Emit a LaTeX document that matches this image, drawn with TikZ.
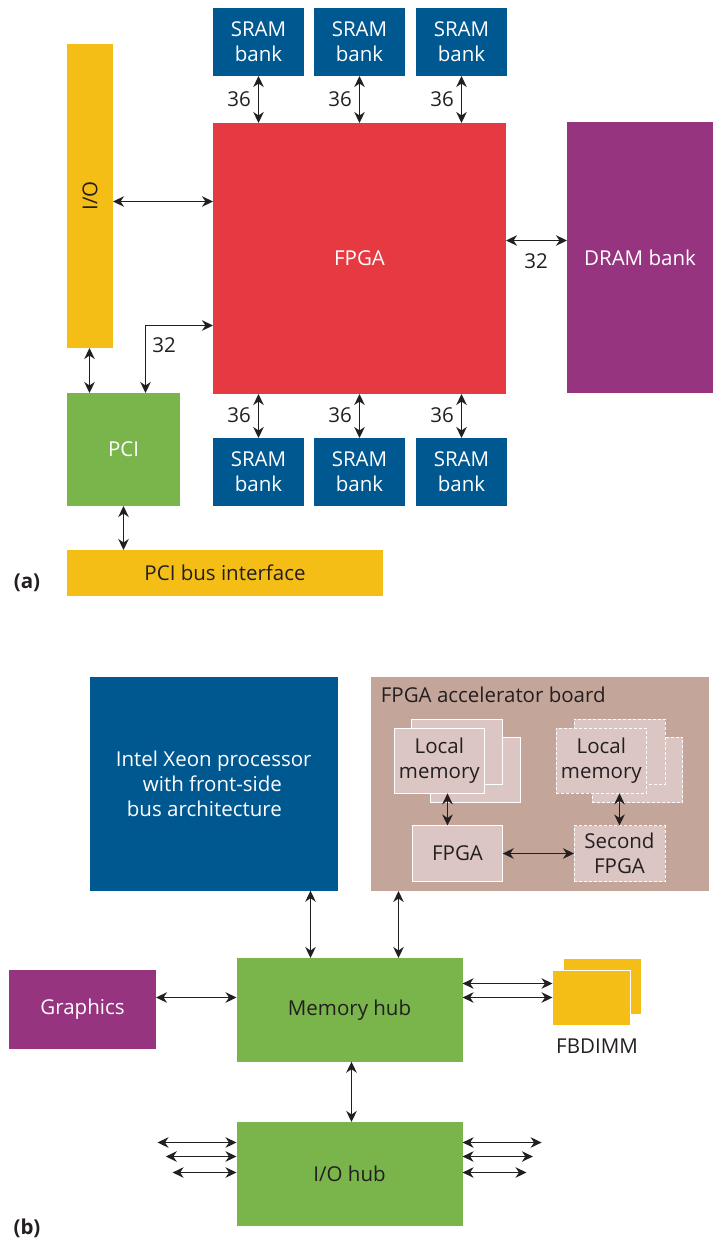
\documentclass[tikz,border=0pt]{standalone}
\usepackage{fontspec}
\setmainfont{Open Sans}
\usetikzlibrary{arrows.meta}
\definecolor{sramblue}{HTML}{005891}
\definecolor{fpgared}{HTML}{E63A42}
\definecolor{drampurple}{HTML}{963480}
\definecolor{ioyellow}{HTML}{F4BE16}
\definecolor{pcigreen}{HTML}{79B54B}
\definecolor{boardtan}{HTML}{C4A599}
\definecolor{memfill}{HTML}{DCC6C3}
\definecolor{ink}{HTML}{231F20}
\newcommand\tfont{\fontsize{20.5}{25}\selectfont}
\tikzset{
  area/.style n args={4}{at={({(#1+#3)/2},{(#2+#4)/2})},
     minimum width={(#3-#1)*1pt}, minimum height={(#4-#2)*1pt}},
  blk/.style={inner sep=0pt, outer sep=0pt, align=center, font=\tfont},
  wtxt/.style={blk, text=white},
  dtxt/.style={blk, text=ink},
  tip/.tip={Stealth[length=11pt,width=10.5pt,inset=3.5pt]},
  arr/.style={draw=ink, line width=1.3pt, tip-tip},
  lbl/.style={text=ink, font=\tfont, inner sep=0pt},
  memsolid/.style={dtxt, fill=memfill, draw=white, line width=1pt},
  memdash/.style={dtxt, fill=memfill, draw=white, line width=1pt, dash pattern=on 3pt off 2pt},
}
\begin{document}
\begin{tikzpicture}[x=1pt,y=-1pt]
\useasboundingbox (0,0) rectangle (715,1240);
% ---------------- (a) ----------------
\node[wtxt, fill=sramblue, area={213}{8}{304}{76}] (st1) {SRAM\\bank};
\node[wtxt, fill=sramblue, area={314}{8}{405}{76}] (st2) {SRAM\\bank};
\node[wtxt, fill=sramblue, area={416}{8}{507}{76}] (st3) {SRAM\\bank};
\node[wtxt, fill=fpgared, area={213}{123}{506}{394}] (fpga) {FPGA};
\node[wtxt, fill=drampurple, area={567}{122}{713}{393}] (dram) {DRAM bank};
\node[dtxt, fill=ioyellow, area={67}{44}{113}{348}] (io) {\rotatebox{90}{I/O}};
\node[wtxt, fill=pcigreen, area={67}{393}{180}{506}] (pci) {PCI};
\node[wtxt, fill=sramblue, area={213}{438}{304}{506}] (sb1) {SRAM\\bank};
\node[wtxt, fill=sramblue, area={314}{438}{405}{506}] (sb2) {SRAM\\bank};
\node[wtxt, fill=sramblue, area={416}{438}{507}{506}] (sb3) {SRAM\\bank};
\node[dtxt, fill=ioyellow, area={67}{550}{383}{596}] (bus) {PCI bus interface};
\node[lbl, font=\tfont\bfseries] (la) at (27,583) {(a)};

\draw[arr] (st1.south) -- (st1.south |- fpga.north);
\draw[arr] (st2.south) -- (st2.south |- fpga.north);
\draw[arr] (st3.south) -- (st3.south |- fpga.north);
\draw[arr] (sb1.north) -- (sb1.north |- fpga.south);
\draw[arr] (sb2.north) -- (sb2.north |- fpga.south);
\draw[arr] (sb3.north) -- (sb3.north |- fpga.south);
\node[lbl] (l1) at (239,99) {36};
\node[lbl] (l2) at (340,99) {36};
\node[lbl] (l3) at (442,99) {36};
\node[lbl] (l4) at (239,415) {36};
\node[lbl] (l5) at (340,415) {36};
\node[lbl] (l6) at (442,415) {36};
\coordinate (yio) at (0,201.5);
\draw[arr] (io.east |- yio) -- (fpga.west |- yio);
\coordinate (ydr) at (0,240.5);
\draw[arr] (fpga.east |- ydr) -- (dram.west |- ydr);
\node[lbl] (l7) at (536,261) {32};
\coordinate (xiop) at (89.5,0);
\draw[arr] (io.south -| xiop) -- (pci.north -| xiop);
\coordinate (p32) at (145.5,325.5);
\draw[arr] (pci.north -| p32) |- (fpga.west |- p32);
\node[lbl] (l8) at (164,345) {32};
\coordinate (xpb) at (123.5,0);
\draw[arr] (pci.south -| xpb) -- (bus.north -| xpb);

% ---------------- (b) ----------------
\node[wtxt, fill=sramblue, area={90}{677.3}{337.5}{890.7}, align=left] (xeon)
  {Intel Xeon processor\\\hspace*{27pt}with front-side\\\hspace*{11pt}bus architecture};
\node[blk, fill=boardtan, area={371}{677}{709}{891}] (board) {};
\node[lbl, anchor=base west] (btitle) at (380.7,702.7) {FPGA accelerator board};
% left local memory stack
\node[memsolid, area={430}{737.3}{520.7}{802.7}] (lmC) {};
\node[memsolid, area={411.7}{719}{502.7}{784}] (lmB) {};
\node[memsolid, area={394}{728.3}{484.7}{793.3}] (lmA) {Local\\memory};
% right local memory stack (dashed)
\node[memdash, area={592.3}{737.3}{682.7}{802.7}] (rmC) {};
\node[memdash, area={574}{719}{665}{784}] (rmB) {};
\node[memdash, area={556}{728.3}{646.7}{793.3}] (rmA) {Local\\memory};
\node[memsolid, area={412.3}{825.5}{502.7}{881.5}] (fpgs) {FPGA};
\node[memdash, area={574}{825.5}{665}{881.5}] (fpg2) {Second\\FPGA};
\coordinate (xlm) at (447.5,0);
\draw[arr] (lmA.south -| xlm) -- (fpgs.north -| xlm);
\draw[arr] (rmA.south -| fpg2.north) -- (fpg2.north);
\draw[arr] (fpgs.east) -- (fpg2.west);

\node[wtxt, fill=drampurple, area={9}{970}{156}{1048.7}] (gfx) {Graphics};
\node[dtxt, fill=pcigreen, area={236.5}{958}{462.6}{1061.7}] (mhub) {Memory hub};
\node[dtxt, fill=pcigreen, area={236.5}{1122}{462.6}{1225.7}] (iohub) {I/O hub};
\node[blk, fill=ioyellow, area={564}{959.3}{641}{1014}] (fbB) {};
\node[blk, fill=ioyellow, draw=white, line width=1pt, area={552.5}{970.7}{630}{1025.7}] (fbA) {};
\node[lbl] (fbl) at (597,1046) {FBDIMM};
\node[lbl, font=\tfont\bfseries] (lb) at (27,1228) {(b)};

\coordinate (xx) at (310.5,0);
\draw[arr] (xeon.south -| xx) -- (mhub.north -| xx);
\coordinate (xb) at (398.5,0);
\draw[arr] (board.south -| xb) -- (mhub.north -| xb);
\coordinate (yg) at (0,997.5);
\draw[arr] (gfx.east |- yg) -- (mhub.west |- yg);
\coordinate (yf1) at (0,983.5);
\coordinate (yf2) at (0,997.5);
\draw[arr] (mhub.east |- yf1) -- (fbA.west |- yf1);
\draw[arr] (mhub.east |- yf2) -- (fbA.west |- yf2);
\coordinate (xm) at (351.5,0);
\draw[arr] (mhub.south -| xm) -- (iohub.north -| xm);
\coordinate (lo1) at (157.5,1142.5);
\coordinate (lo2) at (165.8,1156.5);
\coordinate (lo3) at (172.6,1172.5);
\coordinate (ro1) at (541.6,1142.5);
\coordinate (ro2) at (532.9,1156.5);
\coordinate (ro3) at (526.5,1172.5);
\draw[arr] (lo1) -- (iohub.west |- lo1);
\draw[arr] (lo2) -- (iohub.west |- lo2);
\draw[arr] (lo3) -- (iohub.west |- lo3);
\draw[arr] (iohub.east |- ro1) -- (ro1);
\draw[arr] (iohub.east |- ro2) -- (ro2);
\draw[arr] (iohub.east |- ro3) -- (ro3);
\end{tikzpicture}
\end{document}
